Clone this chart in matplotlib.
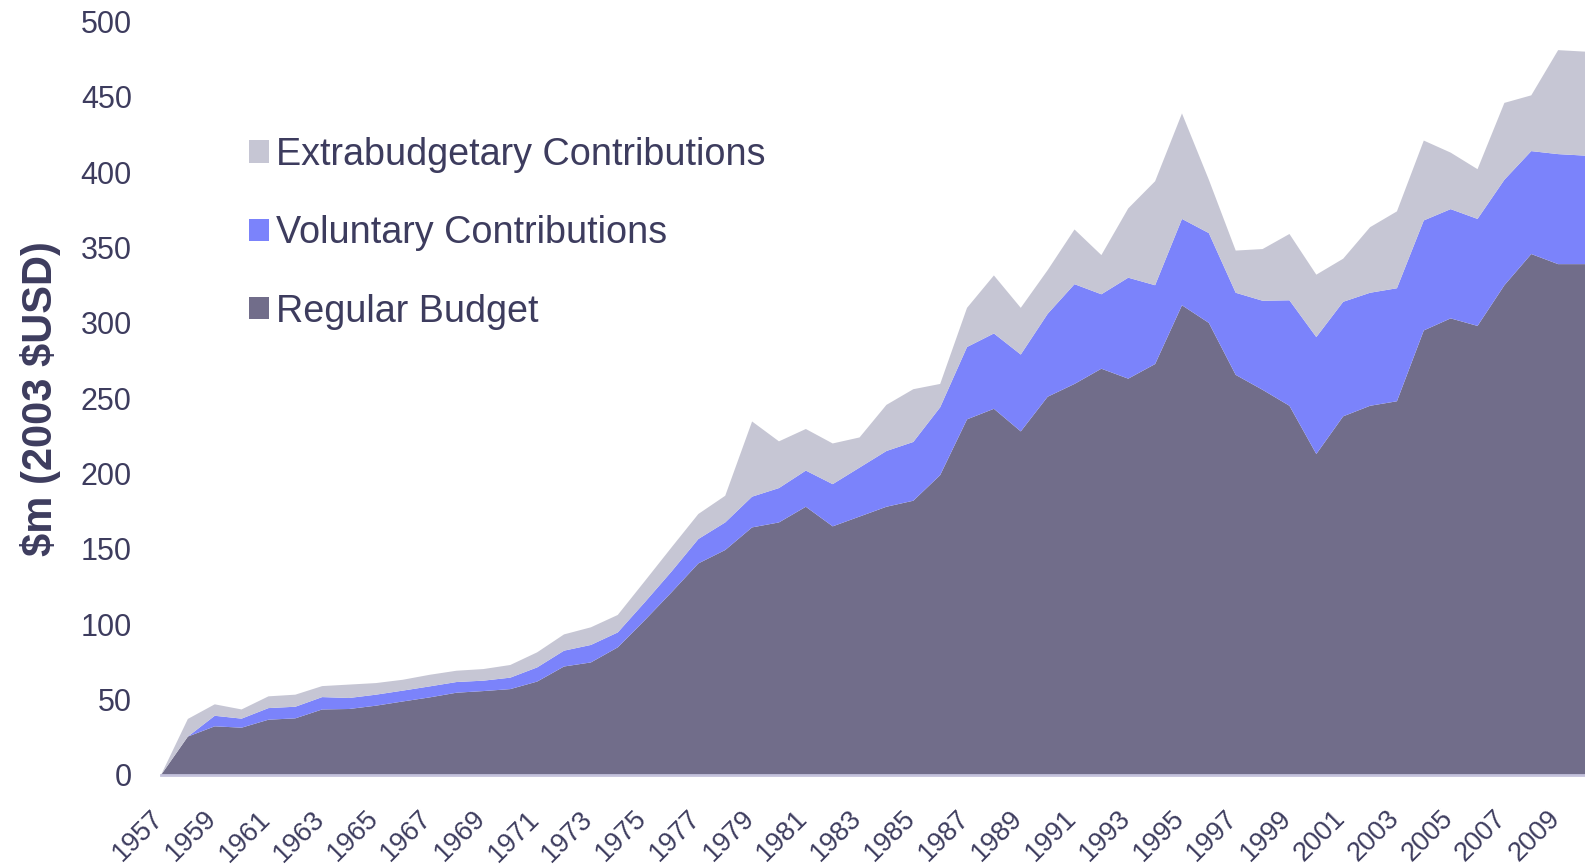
import matplotlib
matplotlib.use("Agg")
import matplotlib.pyplot as plt
from matplotlib.patches import Patch
from matplotlib.transforms import ScaledTranslation

years = list(range(1957, 2011))

regular_budget = [0, 25.5, 32.3, 31.4, 36.7, 37.6, 43.5, 43.8, 46, 48.8,
                  51.5, 54.6, 55.7, 57, 62, 72, 74.7, 84.7, 102.6, 121.2,
                  140.4, 149.3, 164.3, 167.6, 178, 165, 171.5, 178, 182, 199,
                  236, 243, 228, 251, 259.5, 269.6, 263, 272.7, 311.7, 300,
                  265.5, 255.6, 245, 213, 238, 245, 248, 295, 303, 298,
                  325, 345.7, 339, 339]

voluntary = [0, 0, 7.0, 6.0, 7.7, 7.7, 8.2, 7.3, 7.3, 7.2,
             7.3, 7.1, 6.9, 7.6, 9.4, 10.5, 11.6, 9.9, 11.9, 13.8,
             16.2, 18.3, 20.4, 22.8, 24, 28, 32.5, 37, 39, 45,
             48, 50, 51, 55, 66.2, 49.4, 67, 52.3, 57.3, 59.6,
             54.5, 59.1, 70, 77.6, 76, 75, 75, 73, 72.5, 71,
             70, 68.3, 73, 72]

extrabudgetary = [0, 11.7, 7.6, 6.1, 7.8, 8.0, 7.3, 8.9, 7.7, 7.2,
                  7.7, 7.5, 7.7, 8.4, 10, 10.8, 11.7, 11.6, 14, 16,
                  16.6, 17.7, 49.9, 31, 27.6, 27, 20, 30.6, 35, 15.5,
                  26, 38.5, 31, 29, 36.3, 26, 46, 69, 70, 35.4,
                  28, 34.3, 44, 41.4, 28.6, 43.5, 51, 53, 37.5, 33,
                  51, 37, 69, 69]

series_labels = ["Regular Budget", "Voluntary Contributions", "Extrabudgetary Contributions"]
colors = ["#716d8a", "#7b83fb", "#c6c6d4"]
xtick_years = list(range(1957, 2010, 2))
ytick_values = list(range(0, 501, 50))

text_color = "#3d3c5e"
plt.rcParams['font.family'] = ['Liberation Sans', 'DejaVu Sans']

fig = plt.figure(figsize=(15.85, 8.68), dpi=100)
ax = fig.add_axes([161 / 1585, 1 - 775 / 868, 1 - 161 / 1585, (775 - 21.5) / 868])

ax.stackplot(years, regular_budget, voluntary, extrabudgetary,
             colors=colors, linewidth=0)

ax.set_xlim(1957, 2010)
ax.set_ylim(0, 500)

for s in ["left", "top", "right"]:
    ax.spines[s].set_visible(False)
ax.spines["bottom"].set_color("#c4c2dc")
ax.spines["bottom"].set_linewidth(2)

ax.set_yticks(ytick_values)
ax.set_yticklabels([str(v) for v in ytick_values])
ax.set_xticks(xtick_years)
ax.set_xticklabels([str(y) for y in xtick_years], rotation=45, ha="right",
                   va="top", rotation_mode="anchor")
ax.tick_params(axis="y", length=0, pad=21, labelsize=22, labelcolor=text_color)
ax.tick_params(axis="x", length=0, pad=22, labelsize=19.5, labelcolor=text_color)
shift = ScaledTranslation(-11 / 100, 0, fig.dpi_scale_trans)
for lab in ax.get_xticklabels():
    lab.set_transform(lab.get_transform() + shift)

ax.set_ylabel("\\$m (2003 \\$USD)", fontsize=30, fontweight="bold",
              color=text_color, labelpad=14)

handles = [Patch(facecolor=colors[i], edgecolor="none", label=series_labels[i])
           for i in (2, 1, 0)]
leg = ax.legend(handles=handles, loc="upper left",
                bbox_to_anchor=(230 / 1585, 1 - 118 / 868),
                bbox_transform=fig.transFigure, frameon=False,
                fontsize=27.2, handlelength=0.53, handleheight=0.53,
                handletextpad=0.2, labelspacing=1.12, borderpad=0)
for t in leg.get_texts():
    t.set_color(text_color)

fig.savefig("out.png", dpi=100)
